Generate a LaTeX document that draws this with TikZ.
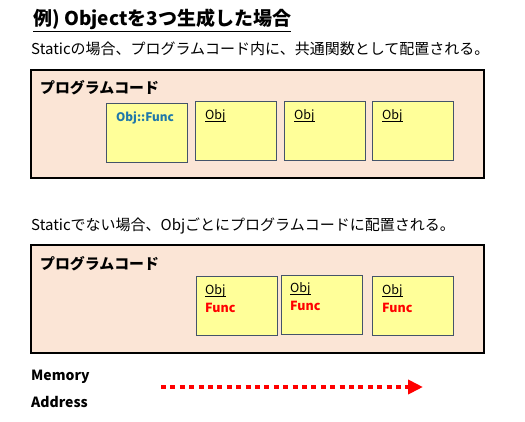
\documentclass[tikz,border=0pt]{standalone}
\usepackage{fontspec}
\setmainfont{Noto Sans CJK JP}
\usetikzlibrary{arrows.meta}
\definecolor{peach}{HTML}{FBE5D6}
\definecolor{pale}{HTML}{FFFF99}
\definecolor{edge}{HTML}{44546A}
\definecolor{funcblue}{HTML}{1F78AA}
\newcommand{\myul}[1]{\underline{\smash{#1}}\vphantom{#1}}
\tikzset{
  txt/.style={anchor=west,inner sep=0pt},
  bigbox/.style={draw=black,line width=2.6pt,fill=peach,minimum width=453pt,minimum height=108pt,inner sep=0pt},
  smallbox/.style={draw=edge,line width=0.9pt,fill=pale,minimum width=81pt,minimum height=59pt,inner sep=0pt},
  lbl/.style={txt,font=\fontsize{14.9}{16}\selectfont\bfseries},
  objt/.style={txt,font=\fontsize{12.5}{14}\selectfont},
  funct/.style={txt,font=\fontsize{12.5}{14}\selectfont\bfseries,text=red},
  sub/.style={txt,font=\fontsize{15}{17}\selectfont},
}
\begin{document}
\begin{tikzpicture}[x=1pt,y=-1pt]
\useasboundingbox[fill=white] (0,0) rectangle (525,421);
\node[txt,font=\fontsize{19}{21}\selectfont\bfseries] (title) at (33,20.5) {\underline{例) Objectを3つ生成した場合}};
\node[sub] (s1) at (31,49) {Staticの場合、プログラムコード内に、共通関数として配置される。};
\node[bigbox] (b1) at (257.5,124) {};
\node[lbl] (l1) at (40,88) {プログラムコード};
\node[smallbox] (a1) at (146.5,133) {};
\node[smallbox] (a2) at (235.5,130.5) {};
\node[smallbox] (a3) at (324.5,130.5) {};
\node[smallbox] (a4) at (412.5,130.5) {};
\node[txt,font=\fontsize{11.8}{14}\selectfont\bfseries,text=funcblue] (f1) at (116,118) {Obj::Func};
\node[objt] (o2) at (205,116) {\myul{Obj}};
\node[objt] (o3) at (294,116) {\myul{Obj}};
\node[objt] (o4) at (382,116) {\myul{Obj}};
\node[sub] (s2) at (31,226) {Staticでない場合、Objごとにプログラムコードに配置される。};
\node[bigbox] (b2) at (257.5,299) {};
\node[lbl] (l2) at (40,264) {プログラムコード};
\node[smallbox] (c1) at (236.5,305.5) {};
\node[smallbox] (c2) at (321.5,304.5) {};
\node[smallbox] (c3) at (412.5,305.5) {};
\node[objt] (p1) at (205,291) {\myul{Obj}};
\node[funct] (q1) at (205,308) {Func};
\node[objt] (p2) at (290,289) {\myul{Obj}};
\node[funct] (q2) at (290,306) {Func};
\node[objt] (p3) at (382,291) {\myul{Obj}};
\node[funct] (q3) at (382,308) {Func};
\node[txt,font=\fontsize{14}{16}\selectfont\bfseries] (mem) at (31,377) {Memory};
\node[txt,font=\fontsize{14}{16}\selectfont\bfseries] (addr) at (31,402) {Address};
\coordinate (arrS) at (161,387);
\coordinate (arrE) at (423,387);
\draw[red,line width=4.5pt,dash pattern=on 5pt off 4.4pt,-{Triangle[length=15pt,width=14pt]}] (arrS) -- (arrE);
\end{tikzpicture}
\end{document}
